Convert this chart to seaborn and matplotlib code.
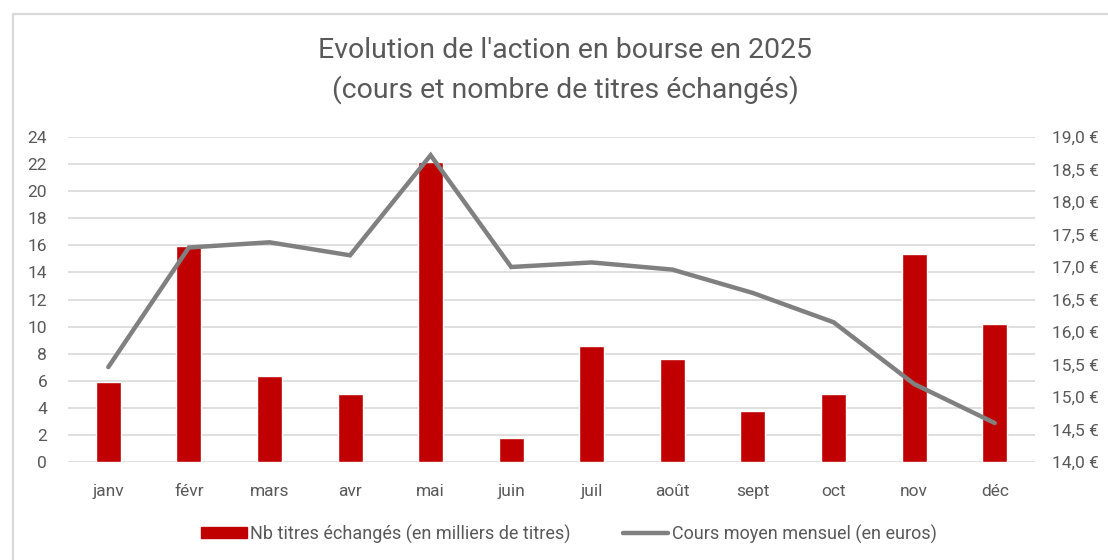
import matplotlib
matplotlib.use("Agg")
import matplotlib.pyplot as plt
import seaborn as sns
import pandas as pd
import numpy as np
from matplotlib.patches import Patch, Rectangle
from matplotlib.lines import Line2D
from matplotlib.ticker import FixedLocator, FixedFormatter

# ---- data ----
months = ["janv", "févr", "mars", "avr", "mai", "juin",
          "juil", "août", "sept", "oct", "nov", "déc"]
volumes = [5.9, 15.95, 6.35, 5.0, 22.15, 1.8, 8.6, 7.6, 3.75, 5.05, 15.35, 10.2]
prices = [15.46, 17.3, 17.38, 17.18, 18.72, 17.0, 17.07, 16.96, 16.6, 16.15, 15.2, 14.6]
left_ticks = [0, 2, 4, 6, 8, 10, 12, 14, 16, 18, 20, 22, 24]
right_ticks = [14.0, 14.5, 15.0, 15.5, 16.0, 16.5, 17.0, 17.5, 18.0, 18.5, 19.0]
right_ticklabels = ["14,0 €", "14,5 €", "15,0 €", "15,5 €", "16,0 €", "16,5 €",
                    "17,0 €", "17,5 €", "18,0 €", "18,5 €", "19,0 €"]
title_lines = ["Evolution de l'action en bourse en 2025",
               "(cours et nombre de titres échangés)"]
bar_label = "Nb titres échangés (en milliers de titres)"
line_label = "Cours moyen mensuel (en euros)"

df = pd.DataFrame({"mois": months, "volume": volumes, "cours": prices,
                   "idx": np.arange(len(months))})

sns.set_theme(style="white")
plt.rcParams["font.family"] = ["Roboto", "DejaVu Sans"]

TXT = "#595959"
RED = "#C00000"
GRAY = "#808080"
GRID = "#D9D9D9"

W, H = 1108, 560
fig = plt.figure(figsize=(W / 100, H / 100), dpi=100)
fig.patch.set_facecolor("white")

# frame
fig.add_artist(Rectangle((13 / W, -0.05), 1.2, (H - 14) / H + 0.05,
                         transform=fig.transFigure, fill=False,
                         edgecolor=GRID, linewidth=1.6))

ax = fig.add_axes([68 / W, (H - 462) / H, (1035 - 68) / W, (462 - 137) / H])
sns.barplot(data=df, x="mois", y="volume", color=RED, width=0.31,
            saturation=1, ax=ax, zorder=2)
ax.set_xlim(-0.5, 11.5)
ax.set_ylim(0, 24)
ax.yaxis.set_major_locator(FixedLocator(left_ticks))
ax.grid(axis="y", color=GRID, linewidth=1.2, zorder=0)
ax.set_axisbelow(True)
ax.grid(axis="x", visible=False)
for s in ax.spines.values():
    s.set_visible(False)
ax.set_xlabel("")
ax.set_ylabel("")
ax.tick_params(axis="x", length=0, pad=16, labelsize=12.5, labelcolor=TXT)
ax.tick_params(axis="y", length=0, pad=15, labelsize=12.5, labelcolor=TXT)

ax2 = ax.twinx()
sns.lineplot(data=df, x="idx", y="cours", color=GRAY, linewidth=3.2,
             ax=ax2, solid_capstyle="round", solid_joinstyle="miter")
ax2.set_ylim(14, 19)
ax2.set_xlim(-0.5, 11.5)
ax2.yaxis.set_major_locator(FixedLocator(right_ticks))
ax2.yaxis.set_major_formatter(FixedFormatter(right_ticklabels))
for s in ax2.spines.values():
    s.set_visible(False)
ax2.set_xlabel("")
ax2.set_ylabel("")
ax2.grid(False)
ax2.tick_params(axis="y", length=0, pad=12, labelsize=12.5, labelcolor=TXT)

# titles
fig.text(565 / W, 1 - 50 / H, title_lines[0], ha="center", va="center",
         fontsize=20.5, color=TXT)
fig.text(565 / W, 1 - 90 / H, title_lines[1], ha="center", va="center",
         fontsize=20.5, color=TXT)

handles = [Patch(facecolor=RED, edgecolor=RED),
           Line2D([0], [0], color=GRAY, linewidth=3.2)]
fig.legend(handles, [bar_label, line_label], loc="center",
           bbox_to_anchor=(569 / W, 1 - 534 / H), ncol=2, frameon=False,
           fontsize=13, labelcolor=TXT, handlelength=2.5, handleheight=0.55,
           handletextpad=0.2, columnspacing=2.9)

fig.savefig("out.png", dpi=100, facecolor="white")
